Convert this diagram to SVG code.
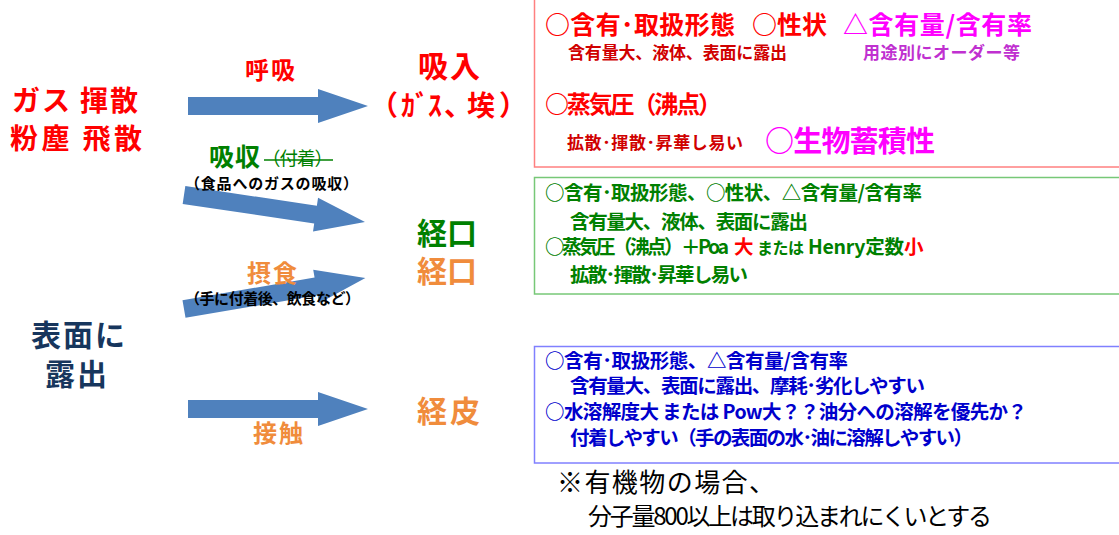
<svg xmlns="http://www.w3.org/2000/svg" width="1119" height="535" viewBox="0 0 1119 535">
<style>
text{font-family:"Noto Sans CJK JP","Noto Sans",sans-serif;}
.b{font-weight:bold;}
.red{fill:#ff0000;}
.dred{fill:#d00000;}
.mag{fill:#ff00ff;}
.pur{fill:#c030d0;}
.grn{fill:#008000;}
.blu{fill:#0000cc;}
.org{fill:#f08c3c;}
.navy{fill:#17365d;}
.blk{fill:#000000;}
.arrow{fill:#4f81bd;}
.box{fill:none;stroke-width:1.5;}
</style>
<rect width="1119" height="535" fill="#ffffff"/>

<g id="connectors">
  <polygon class="arrow" transform="translate(188,106)" points="0,-9 130,-9 130,-17 180,0 130,17 130,9 0,9"/>
  <polygon class="arrow" transform="translate(184,195) rotate(8.5)" points="0,-9 133,-9 133,-17 183,0 133,17 133,9 0,9"/>
  <polygon class="arrow" transform="translate(184,309) rotate(-9.7)" points="0,-9 134,-9 134,-17 184,0 134,17 134,9 0,9"/>
  <polygon class="arrow" transform="translate(188,409)" points="0,-9 130,-9 130,-17 180,0 130,17 130,9 0,9"/>
</g>

<g id="label-kokyu"><text class="red b" x="245" y="79" font-size="24" textLength="50">呼吸</text></g>
<g id="label-kyushu">
  <text class="grn b" x="209" y="166" font-size="25" textLength="51">吸収</text>
  <text class="grn" x="262" y="165" font-size="18.5" textLength="71">（付着）</text>
  <line x1="264" y1="160" x2="333" y2="160" stroke="#008000" stroke-width="1.5"/>
  <text class="blk b" x="185" y="189" font-size="15" textLength="173">（食品へのガスの吸収）</text>
</g>
<g id="label-sesshoku">
  <text class="org b" x="247" y="282" font-size="24" textLength="50">摂食</text>
  <text class="blk b" x="185" y="304" font-size="15" textLength="175">（手に付着後、飲食など）</text>
</g>
<g id="label-sesshoku2"><text class="org b" x="253" y="442" font-size="24" textLength="50">接触</text></g>

<g id="node-gas">
  <text class="red b" x="12" y="111" font-size="28" textLength="126">ガス 揮散</text>
  <text class="red b" x="10" y="149" font-size="28" textLength="132">粉塵 飛散</text>
</g>
<g id="node-surface">
  <text class="navy b" x="31" y="346" font-size="30" textLength="94">表面に</text>
  <text class="navy b" x="45" y="385" font-size="30" textLength="62">露出</text>
</g>

<g id="node-inhale">
  <text class="red b" x="418" y="77" font-size="30" textLength="62">吸入</text>
  <text class="red b" y="116" font-size="28"><tspan x="370">（</tspan><tspan x="401">ｶﾞ</tspan><tspan x="428">ｽ</tspan><tspan x="444">、</tspan><tspan x="467">埃</tspan><tspan x="499">）</tspan></text>
</g>
<g id="node-oral">
  <text class="grn b" x="417" y="244" font-size="30" textLength="60">経口</text>
  <text class="org b" x="417" y="282" font-size="30" textLength="60">経口</text>
</g>
<g id="node-dermal"><text class="org b" x="417" y="422" font-size="30" textLength="63">経皮</text></g>

<g id="box-inhale">
  <rect class="box" x="534.5" y="-5" width="600" height="172" stroke="#ff8080"/>
  <text class="red b" x="545" y="34" font-size="25" textLength="190">○含有･取扱形態</text>
  <text class="red b" x="752" y="34" font-size="25" textLength="75">○性状</text>
  <text class="mag b" x="843" y="34" font-size="25" textLength="189">△含有量/含有率</text>
  <text class="dred b" x="568" y="59" font-size="17" textLength="219">含有量大、液体、表面に露出</text>
  <text class="pur b" x="863" y="59" font-size="17" textLength="157">用途別にオーダー等</text>
  <text class="red b" x="545" y="113" font-size="24" textLength="177">○蒸気圧（沸点）</text>
  <text class="dred b" x="567" y="149" font-size="17" textLength="176">拡散･揮散･昇華し易い</text>
  <text class="mag b" x="765" y="152" font-size="29" textLength="170">○生物蓄積性</text>
</g>

<g id="box-oral">
  <rect class="box" x="534.5" y="177.5" width="600" height="116.5" stroke="#77c877"/>
  <text class="grn b" x="545" y="200" font-size="19.5" textLength="377">○含有･取扱形態、○性状、△含有量/含有率</text>
  <text class="grn b" x="570" y="229" font-size="19.5" textLength="238">含有量大、液体、表面に露出</text>
  <text class="grn b" y="254" font-size="19.5"><tspan x="545" textLength="184">○蒸気圧（沸点）＋Poa</tspan><tspan x="734" fill="#ff0000">大</tspan><tspan x="757" font-size="16" textLength="47">または</tspan><tspan x="808" textLength="96">Henry定数</tspan><tspan x="904" fill="#ff0000">小</tspan></text>
  <text class="grn b" x="570" y="282" font-size="19.5" textLength="178">拡散･揮散･昇華し易い</text>
</g>

<g id="box-dermal">
  <rect class="box" x="534.5" y="346.5" width="600" height="116.5" stroke="#8080ff"/>
  <text class="blu b" x="545" y="368" font-size="19.5" textLength="303">○含有･取扱形態、△含有量/含有率</text>
  <text class="blu b" x="570" y="393" font-size="19.5" textLength="355">含有量大、表面に露出、摩耗･劣化しやすい</text>
  <text class="blu b" x="545" y="419" font-size="19.5" textLength="482">○水溶解度大 または Pow大？？油分への溶解を優先か？</text>
  <text class="blu b" x="570" y="445" font-size="19.5" textLength="403">付着しやすい（手の表面の水･油に溶解しやすい）</text>
</g>

<g id="note">
  <text class="blk" x="557" y="492" font-size="26" textLength="218">※有機物の場合、</text>
  <text class="blk" x="588" y="525" font-size="24" textLength="404">分子量800以上は取り込まれにくいとする</text>
</g>
</svg>
